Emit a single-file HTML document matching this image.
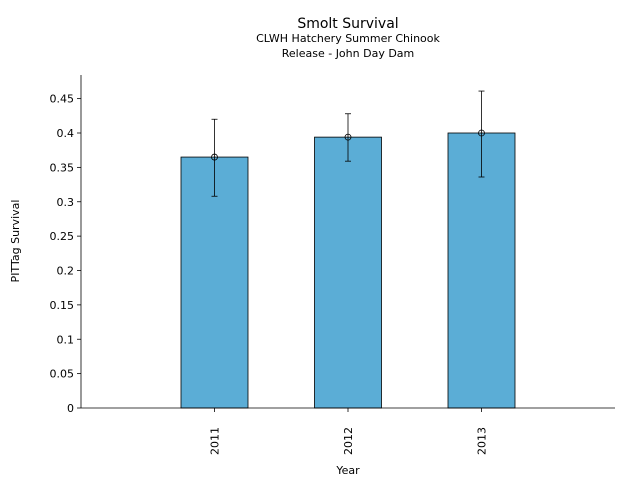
<!DOCTYPE html>
<html><head><meta charset="utf-8"><style>
body{margin:0;background:#fff;font-family:"Liberation Sans","DejaVu Sans",sans-serif}
svg text{font-family:"DejaVu Sans","Liberation Sans",sans-serif}
</style></head><body>
<svg id="chart" width="640" height="480" xmlns="http://www.w3.org/2000/svg">
<text x="348" y="28" text-anchor="middle" font-size="14">Smolt Survival</text>
<text x="348" y="42" text-anchor="middle" font-size="11">CLWH Hatchery Summer Chinook</text>
<text x="348" y="57" text-anchor="middle" font-size="11">Release - John Day Dam</text>
<g id="bars"></g><g id="axes"></g>
<text transform="translate(19,241) rotate(-90)" text-anchor="middle" font-size="11">PITTag Survival</text>
<text x="348" y="474" text-anchor="middle" font-size="11">Year</text>
</svg>
<script>
const categories=["2011","2012","2013"];
const values=[0.365,0.394,0.4];
const errLow=[0.308,0.359,0.336];
const errHigh=[0.42,0.428,0.461];
const yTicks=[0,0.05,0.1,0.15,0.2,0.25,0.3,0.35,0.4,0.45];
const yTickLabels=["0","0.05","0.1","0.15","0.2","0.25","0.3","0.35","0.4","0.45"];
const NS="http://www.w3.org/2000/svg";
const X0=81,X1=615,Y0=408,YT=75;
const ys=v=>Y0-v*687.5;
const xs=i=>X0+(i+1)*(X1-X0)/(categories.length+1);
function mk(t,a,p){const e=document.createElementNS(NS,t);for(const k in a)e.setAttribute(k,a[k]);p.appendChild(e);return e;}
const bars=document.getElementById('bars'),axes=document.getElementById('axes');
categories.forEach((c,i)=>{
 const cx=xs(i),w=67;
 const r=mk('rect',{x:cx-w/2,y:ys(values[i]),width:w,height:Y0-ys(values[i]),fill:'#5badd6',stroke:'#000','stroke-width':0.8},bars);
 
 
 const g=mk('g',{stroke:'#000','stroke-width':0.8,fill:'none'},bars);
 
 
 mk('line',{x1:cx,x2:cx,y1:ys(errLow[i]),y2:ys(errHigh[i])},g);
 mk('line',{x1:cx-3,x2:cx+3,y1:ys(errLow[i]),y2:ys(errLow[i])},g);
 mk('line',{x1:cx-3,x2:cx+3,y1:ys(errHigh[i]),y2:ys(errHigh[i])},g);
 mk('circle',{cx:cx,cy:ys(values[i]),r:3},g);
 mk('line',{x1:cx,x2:cx,y1:Y0,y2:Y0+4,stroke:'#000','stroke-width':0.8},axes);
 const t=mk('text',{transform:`translate(${cx+4},${Y0+47}) rotate(-90)`,'font-size':11},axes);
 t.textContent=c;
 
 
});
yTicks.forEach((v,i)=>{
 const y=ys(v);
 mk('line',{x1:X0-4,x2:X0,y1:y,y2:y,stroke:'#000','stroke-width':0.8},axes);
 const t=mk('text',{x:X0-7,y:y+4,'text-anchor':'end','font-size':11},axes);
 t.textContent=yTickLabels[i];
 
 
});
const yl=mk('line',{x1:X0,x2:X0,y1:YT,y2:Y0,stroke:'#000','stroke-width':0.8},axes);


const xl=mk('line',{x1:X0,x2:X1,y1:Y0,y2:Y0,stroke:'#000','stroke-width':0.8},axes);


</script>
</body></html>
